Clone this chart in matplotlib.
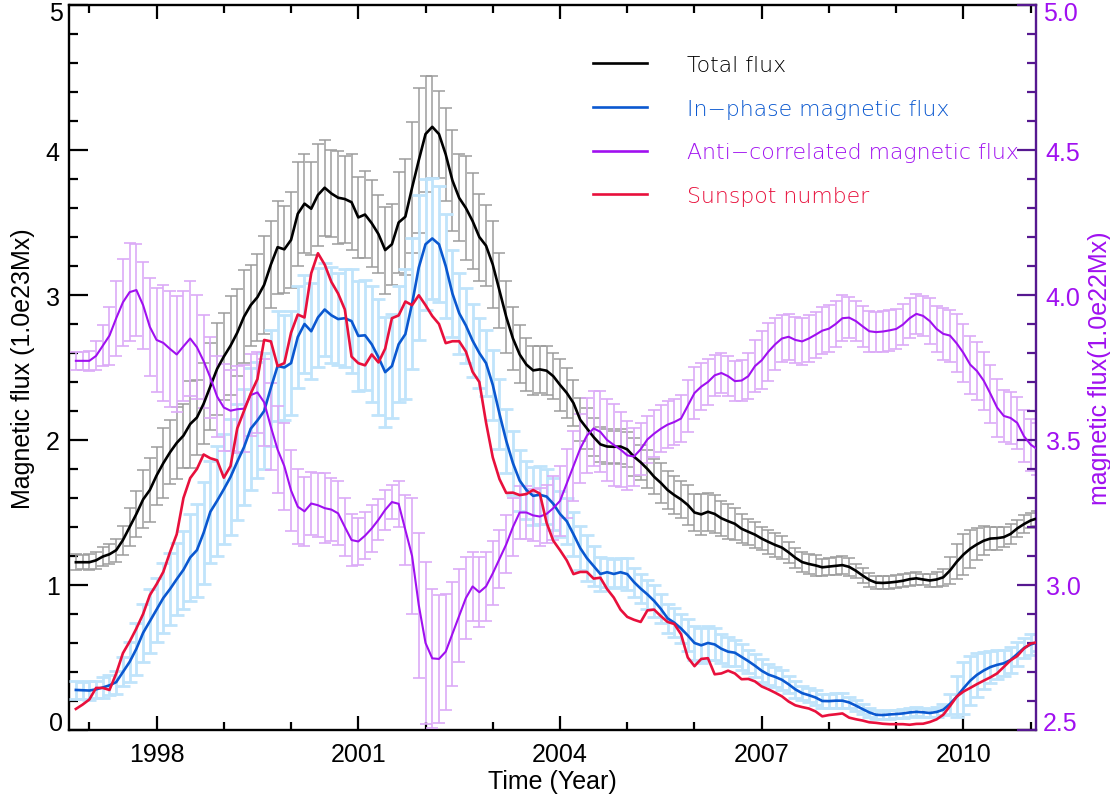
import numpy as np
import matplotlib
matplotlib.use("Agg")
import matplotlib.pyplot as plt
from matplotlib.ticker import MultipleLocator, FuncFormatter
from matplotlib.font_manager import FontProperties

# ---------------------------------------------------------------- data
years = np.round(1996.8 + 0.1 * np.arange(144), 2)

total_flux = [
    1.157, 1.157, 1.157, 1.17, 1.196, 1.212, 1.24, 1.31, 1.40, 1.49,
    1.59, 1.655, 1.755, 1.84, 1.915, 1.98, 2.03, 2.11, 2.155, 2.25,
    2.37, 2.49, 2.575, 2.65, 2.74, 2.85, 2.93, 2.985, 3.07, 3.21,
    3.33, 3.315, 3.38, 3.56, 3.63, 3.595, 3.69, 3.74, 3.70, 3.671,
    3.662, 3.64, 3.535, 3.555, 3.495, 3.42, 3.31, 3.35, 3.50, 3.54,
    3.74, 3.93, 4.11, 4.16, 4.11, 3.97, 3.79, 3.67, 3.60, 3.51,
    3.40, 3.34, 3.21, 3.03, 2.85, 2.70, 2.59, 2.52, 2.48, 2.487,
    2.478, 2.44, 2.38, 2.325, 2.255, 2.14, 2.08, 2.02, 1.97, 1.955,
    1.953, 1.955, 1.935, 1.885, 1.846, 1.80, 1.746, 1.704, 1.655, 1.62,
    1.59, 1.552, 1.50, 1.487, 1.505, 1.49, 1.46, 1.44, 1.422, 1.388,
    1.367, 1.347, 1.32, 1.297, 1.276, 1.258, 1.225, 1.188, 1.158, 1.145,
    1.135, 1.122, 1.127, 1.132, 1.137, 1.125, 1.098, 1.065, 1.035, 1.016,
    1.014, 1.017, 1.022, 1.029, 1.04, 1.046, 1.038, 1.031, 1.038, 1.053,
    1.10, 1.16, 1.21, 1.25, 1.28, 1.305, 1.32, 1.323, 1.33, 1.352,
    1.39, 1.42, 1.445, 1.46,
]
total_err = [
    0.055, 0.05, 0.055, 0.06, 0.065, 0.07, 0.08, 0.1, 0.13, 0.16,
    0.2, 0.22, 0.2, 0.24, 0.22, 0.25, 0.22, 0.3, 0.26, 0.28,
    0.3, 0.32, 0.3, 0.34, 0.3, 0.32, 0.28, 0.3, 0.34, 0.3,
    0.32, 0.3, 0.33, 0.36, 0.34, 0.32, 0.35, 0.33, 0.3, 0.32,
    0.3, 0.33, 0.28, 0.3, 0.3, 0.27, 0.3, 0.28, 0.35, 0.4,
    0.45, 0.5, 0.4, 0.35, 0.3, 0.32, 0.35, 0.3, 0.36, 0.33,
    0.3, 0.28, 0.3, 0.26, 0.25, 0.22, 0.2, 0.18, 0.17, 0.16,
    0.17, 0.16, 0.18, 0.17, 0.16, 0.15, 0.14, 0.13, 0.12, 0.12,
    0.11, 0.12, 0.12, 0.13, 0.12, 0.13, 0.12, 0.14, 0.13, 0.13,
    0.13, 0.14, 0.13, 0.14, 0.13, 0.13, 0.12, 0.12, 0.11, 0.1,
    0.09, 0.09, 0.08, 0.08, 0.08, 0.08, 0.07, 0.07, 0.07, 0.07,
    0.07, 0.06, 0.06, 0.06, 0.06, 0.06, 0.05, 0.05, 0.05, 0.045,
    0.045, 0.045, 0.045, 0.045, 0.045, 0.045, 0.04, 0.045, 0.05, 0.06,
    0.09, 0.12, 0.14, 0.13, 0.11, 0.1, 0.08, 0.08, 0.07, 0.07,
    0.06, 0.06, 0.05, 0.05,
]

inphase_flux = [
    0.276, 0.274, 0.272, 0.28, 0.293, 0.308, 0.33, 0.40, 0.47, 0.56,
    0.67, 0.75, 0.83, 0.91, 0.972, 1.04, 1.105, 1.19, 1.24, 1.36,
    1.505, 1.58, 1.66, 1.745, 1.85, 1.95, 2.078, 2.135, 2.20, 2.36,
    2.51, 2.50, 2.53, 2.71, 2.80, 2.75, 2.845, 2.90, 2.86, 2.834,
    2.84, 2.82, 2.718, 2.722, 2.66, 2.57, 2.468, 2.51, 2.66, 2.73,
    2.94, 3.19, 3.35, 3.39, 3.35, 3.20, 3.01, 2.875, 2.79, 2.685,
    2.60, 2.53, 2.38, 2.18, 1.995, 1.84, 1.72, 1.655, 1.615, 1.622,
    1.61, 1.56, 1.49, 1.44, 1.35, 1.255, 1.185, 1.13, 1.076, 1.088,
    1.076, 1.088, 1.075, 1.02, 0.975, 0.935, 0.89, 0.835, 0.77, 0.74,
    0.70, 0.652, 0.60, 0.584, 0.60, 0.59, 0.56, 0.54, 0.533, 0.504,
    0.475, 0.443, 0.408, 0.382, 0.366, 0.346, 0.315, 0.28, 0.254, 0.24,
    0.224, 0.20, 0.199, 0.202, 0.202, 0.19, 0.168, 0.144, 0.121, 0.105,
    0.103, 0.107, 0.11, 0.114, 0.121, 0.125, 0.122, 0.117, 0.124, 0.14,
    0.18, 0.23, 0.287, 0.34, 0.38, 0.41, 0.434, 0.449, 0.46, 0.483,
    0.524, 0.565, 0.59, 0.605,
]
inphase_err = [
    0.06, 0.06, 0.065, 0.06, 0.07, 0.07, 0.08, 0.1, 0.14, 0.18,
    0.2, 0.22, 0.22, 0.24, 0.25, 0.25, 0.27, 0.3, 0.32, 0.35,
    0.35, 0.38, 0.38, 0.4, 0.4, 0.4, 0.42, 0.4, 0.4, 0.4,
    0.38, 0.36, 0.36, 0.35, 0.34, 0.33, 0.34, 0.32, 0.33, 0.32,
    0.34, 0.36, 0.38, 0.38, 0.4, 0.4, 0.38, 0.36, 0.4, 0.45,
    0.45, 0.5, 0.45, 0.42, 0.4, 0.36, 0.3, 0.28, 0.26, 0.25,
    0.24, 0.23, 0.24, 0.24, 0.22, 0.22, 0.21, 0.2, 0.2, 0.2,
    0.19, 0.18, 0.16, 0.16, 0.15, 0.15, 0.16, 0.14, 0.12, 0.1,
    0.1, 0.1, 0.11, 0.1, 0.1, 0.1, 0.11, 0.1, 0.1, 0.1,
    0.1, 0.11, 0.12, 0.12, 0.12, 0.11, 0.1, 0.1, 0.09, 0.09,
    0.08, 0.08, 0.08, 0.07, 0.07, 0.07, 0.06, 0.06, 0.05, 0.05,
    0.05, 0.05, 0.05, 0.05, 0.05, 0.04, 0.04, 0.035, 0.03, 0.03,
    0.03, 0.03, 0.03, 0.03, 0.03, 0.03, 0.03, 0.03, 0.035, 0.04,
    0.07, 0.14, 0.18, 0.17, 0.15, 0.13, 0.11, 0.1, 0.09, 0.09,
    0.08, 0.07, 0.07, 0.06,
]

# anti-correlated flux, in units of 1.0e22 Mx (right axis)
anti_flux = [
    3.773, 3.773, 3.773, 3.79, 3.825, 3.86, 3.92, 3.975, 4.01, 4.017,
    3.965, 3.89, 3.845, 3.835, 3.814, 3.795, 3.823, 3.85, 3.82, 3.772,
    3.715, 3.65, 3.612, 3.601, 3.606, 3.608, 3.655, 3.664, 3.63, 3.545,
    3.467, 3.41, 3.326, 3.27, 3.254, 3.281, 3.275, 3.265, 3.26, 3.247,
    3.20, 3.155, 3.15, 3.17, 3.195, 3.225, 3.259, 3.286, 3.28, 3.19,
    3.10, 2.93, 2.80, 2.747, 2.745, 2.77, 2.832, 2.895, 2.955, 2.995,
    2.975, 2.995, 3.04, 3.09, 3.14, 3.20, 3.25, 3.25, 3.24, 3.236,
    3.245, 3.265, 3.29, 3.35, 3.41, 3.47, 3.515, 3.54, 3.528, 3.50,
    3.483, 3.467, 3.447, 3.443, 3.468, 3.502, 3.522, 3.539, 3.553, 3.562,
    3.574, 3.618, 3.662, 3.684, 3.70, 3.723, 3.731, 3.72, 3.703, 3.705,
    3.72, 3.755, 3.775, 3.805, 3.83, 3.85, 3.856, 3.845, 3.84, 3.85,
    3.863, 3.877, 3.884, 3.90, 3.92, 3.922, 3.91, 3.892, 3.875, 3.872,
    3.874, 3.878, 3.883, 3.898, 3.92, 3.935, 3.928, 3.91, 3.883, 3.866,
    3.86, 3.833, 3.80, 3.76, 3.738, 3.705, 3.66, 3.612, 3.583, 3.576,
    3.559, 3.513, 3.484, 3.468,
]
anti_err = [
    0.03, 0.03, 0.035, 0.05, 0.07, 0.1, 0.13, 0.15, 0.17, 0.16,
    0.15, 0.17, 0.18, 0.2, 0.2, 0.2, 0.19, 0.2, 0.18, 0.16,
    0.14, 0.14, 0.15, 0.14, 0.15, 0.15, 0.14, 0.14, 0.15, 0.15,
    0.15, 0.15, 0.14, 0.13, 0.12, 0.11, 0.11, 0.12, 0.11, 0.11,
    0.1, 0.09, 0.08, 0.08, 0.08, 0.07, 0.07, 0.06, 0.08, 0.12,
    0.2, 0.25, 0.28, 0.24, 0.22, 0.2, 0.18, 0.16, 0.14, 0.12,
    0.12, 0.12, 0.11, 0.1, 0.1, 0.1, 0.09, 0.09, 0.09, 0.1,
    0.1, 0.11, 0.12, 0.12, 0.12, 0.12, 0.13, 0.13, 0.14, 0.14,
    0.14, 0.13, 0.12, 0.1, 0.09, 0.08, 0.08, 0.08, 0.08, 0.08,
    0.08, 0.09, 0.09, 0.08, 0.08, 0.07, 0.07, 0.07, 0.07, 0.07,
    0.08, 0.09, 0.1, 0.1, 0.09, 0.08, 0.08, 0.08, 0.08, 0.08,
    0.08, 0.08, 0.08, 0.08, 0.08, 0.07, 0.07, 0.07, 0.07, 0.07,
    0.07, 0.07, 0.07, 0.07, 0.07, 0.07, 0.07, 0.08, 0.08, 0.09,
    0.09, 0.1, 0.1, 0.1, 0.1, 0.1, 0.1, 0.1, 0.09, 0.09,
    0.09, 0.09, 0.09, 0.09,
]

# sunspot number, scaled onto the left axis
sunspot_scaled = [
    0.145, 0.175, 0.21, 0.29, 0.29, 0.276, 0.39, 0.53, 0.61, 0.70,
    0.80, 0.93, 1.005, 1.09, 1.226, 1.35, 1.60, 1.737, 1.80, 1.90,
    1.874, 1.86, 1.74, 1.82, 2.08, 2.20, 2.32, 2.42, 2.69, 2.68,
    2.51, 2.53, 2.74, 2.865, 2.845, 3.15, 3.288, 3.21, 3.09, 3.01,
    2.90, 2.575, 2.53, 2.515, 2.59, 2.535, 2.63, 2.84, 2.859, 2.955,
    2.93, 2.998, 2.93, 2.855, 2.80, 2.668, 2.681, 2.681, 2.61, 2.47,
    2.40, 2.12, 1.88, 1.73, 1.635, 1.637, 1.62, 1.627, 1.655, 1.63,
    1.43, 1.305, 1.24, 1.17, 1.075, 1.09, 1.09, 1.044, 1.05, 0.972,
    0.913, 0.83, 0.78, 0.76, 0.745, 0.825, 0.83, 0.785, 0.745, 0.731,
    0.66, 0.50, 0.44, 0.49, 0.495, 0.384, 0.39, 0.409, 0.39, 0.35,
    0.352, 0.335, 0.30, 0.28, 0.257, 0.232, 0.196, 0.17, 0.158, 0.148,
    0.128, 0.094, 0.103, 0.108, 0.114, 0.085, 0.074, 0.065, 0.053, 0.049,
    0.043, 0.04, 0.04, 0.04, 0.036, 0.042, 0.043, 0.055, 0.073, 0.105,
    0.165, 0.23, 0.265, 0.29, 0.316, 0.34, 0.363, 0.39, 0.435, 0.48,
    0.51, 0.562, 0.596, 0.605,
]

series_labels = ["Total flux", "In\u2212phase magnetic flux",
                 "Anti\u2212correlated magnetic flux", "Sunspot number"]
year_ticks = [1998, 2001, 2004, 2007, 2010]

# ---------------------------------------------------------------- style
BLACK = "#000000"
BLUE = "#0a58d0"
PURPLE = "#a010f0"
RED = "#e8103c"
GRAY_ERR = "#9c9c9c"
BLUE_ERR = "#c0e4fb"
PURPLE_ERR = "#dcaaf7"
AXIS_PURPLE = "#561890"

label_font = "Liberation Sans"
FS = 18

fig = plt.figure(figsize=(11.1, 8.03), dpi=100)
ax = fig.add_axes([0.0626, 0.0897, 0.8708, 0.9028])
ax2 = ax.twinx()

# everything is drawn on the upper (right-hand) axes so the curves sit above
# all of the error bars; left-axis series use the left axis' data transform
left = ax.transData
ax2.errorbar(years, total_flux, yerr=total_err, fmt="none", ecolor=GRAY_ERR,
             elinewidth=1.1, capsize=4.5, capthick=1.1, transform=left, zorder=1)
ax2.errorbar(years, inphase_flux, yerr=inphase_err, fmt="none", ecolor=BLUE_ERR,
             elinewidth=2.0, capsize=5, capthick=2.0, transform=left, zorder=1.1)
ax2.errorbar(years, anti_flux, yerr=anti_err, fmt="none", ecolor=PURPLE_ERR,
             elinewidth=1.2, capsize=4.5, capthick=1.2, zorder=1.2)

h_total, = ax2.plot(years, total_flux, color=BLACK, lw=1.9, transform=left, zorder=3)
h_inph, = ax2.plot(years, inphase_flux, color=BLUE, lw=1.9, transform=left, zorder=3)
h_anti, = ax2.plot(years, anti_flux, color=PURPLE, lw=1.5, zorder=3)
h_spot, = ax2.plot(years, sunspot_scaled, color=RED, lw=1.9, transform=left, zorder=3.1)

Y_LEFT = (0, 5)
Y_RIGHT = (2.5, 5.0)
ax.set_xlim(1996.705, 2011.08)
ax.set_ylim(*Y_LEFT)
ax2.set_ylim(*Y_RIGHT)

# ---------------------------------------------------------------- axes
ax.set_xticks(year_ticks)
ax.xaxis.set_minor_locator(MultipleLocator(1))
ax.yaxis.set_major_locator(MultipleLocator(1))
ax.yaxis.set_minor_locator(MultipleLocator(0.2))
ax2.yaxis.set_major_locator(MultipleLocator(0.5))
ax2.yaxis.set_minor_locator(MultipleLocator(0.1))


# the labels at both ends of each vertical axis are nudged inside the frame
# (added separately below), the rest are drawn by the formatter
def inner_only(lo, hi, fmt):
    def f(v, _pos):
        if abs(v - lo) < 1e-9 or abs(v - hi) < 1e-9:
            return ""
        return fmt.format(v)
    return FuncFormatter(f)


ax.yaxis.set_major_formatter(inner_only(*Y_LEFT, "{:g}"))
ax2.yaxis.set_major_formatter(inner_only(*Y_RIGHT, "{:.1f}"))

for sp in ax.spines.values():
    sp.set_linewidth(1.7)
ax.spines["right"].set_visible(False)
for name in ("left", "top", "bottom"):
    ax2.spines[name].set_visible(False)
ax2.spines["right"].set_linewidth(1.7)
ax2.spines["right"].set_color(AXIS_PURPLE)

ax.tick_params(axis="x", which="both", direction="in", top=True, bottom=True,
               width=1.6, labelsize=FS, pad=9)
ax.tick_params(axis="x", which="major", length=10)
ax.tick_params(axis="x", which="minor", length=5.8)
ax.tick_params(axis="y", which="both", direction="in", left=True, right=False,
               width=1.6, labelsize=FS, pad=7)
ax.tick_params(axis="y", which="major", length=13.5)
ax.tick_params(axis="y", which="minor", length=6.5)
ax2.tick_params(axis="y", which="both", direction="in", width=1.6,
                color=AXIS_PURPLE, labelcolor=PURPLE, labelsize=FS, pad=7)
ax2.tick_params(axis="y", which="major", length=13.5)
ax2.tick_params(axis="y", which="minor", length=6.5)

for lab in ax.get_xticklabels() + ax.get_yticklabels() + ax2.get_yticklabels():
    lab.set_fontfamily(label_font)

end_kw = dict(textcoords="offset points", va="center", fontsize=FS,
              family=label_font, annotation_clip=False)
ax.annotate(f"{Y_LEFT[1]:g}", xy=(0, Y_LEFT[1]), xycoords=ax.get_yaxis_transform(),
            xytext=(-5, -5.5), ha="right", **end_kw)
ax.annotate(f"{Y_LEFT[0]:g}", xy=(0, Y_LEFT[0]), xycoords=ax.get_yaxis_transform(),
            xytext=(-5, 5), ha="right", **end_kw)
ax2.annotate(f"{Y_RIGHT[1]:.1f}", xy=(1, Y_RIGHT[1]), xycoords=ax2.get_yaxis_transform(),
             xytext=(5, -5.5), ha="left", color=PURPLE, **end_kw)
ax2.annotate(f"{Y_RIGHT[0]:.1f}", xy=(1, Y_RIGHT[0]), xycoords=ax2.get_yaxis_transform(),
             xytext=(5, 5), ha="left", color=PURPLE, **end_kw)

ax.set_xlabel("Time (Year)", fontsize=FS, family=label_font, labelpad=2)
ax.set_ylabel("Magnetic flux (1.0e23Mx)", fontsize=FS, family=label_font, labelpad=8)
ax2.set_ylabel("magnetic flux(1.0e22Mx)", fontsize=FS, family=label_font,
               color=PURPLE, labelpad=5)

# ---------------------------------------------------------------- legend
leg_font = FontProperties(family="DejaVu Sans", weight="light", size=15.8)
leg = ax2.legend([h_total, h_inph, h_anti, h_spot], series_labels,
                 loc="upper left", bbox_to_anchor=(0.5417, 0.931),
                 frameon=False, prop=leg_font, labelcolor="linecolor",
                 handlelength=2.47, handletextpad=1.83, labelspacing=1.08,
                 borderpad=0, borderaxespad=0)
for line in leg.get_lines():
    line.set_linewidth(1.9)

fig.savefig("out.png", dpi=100)
